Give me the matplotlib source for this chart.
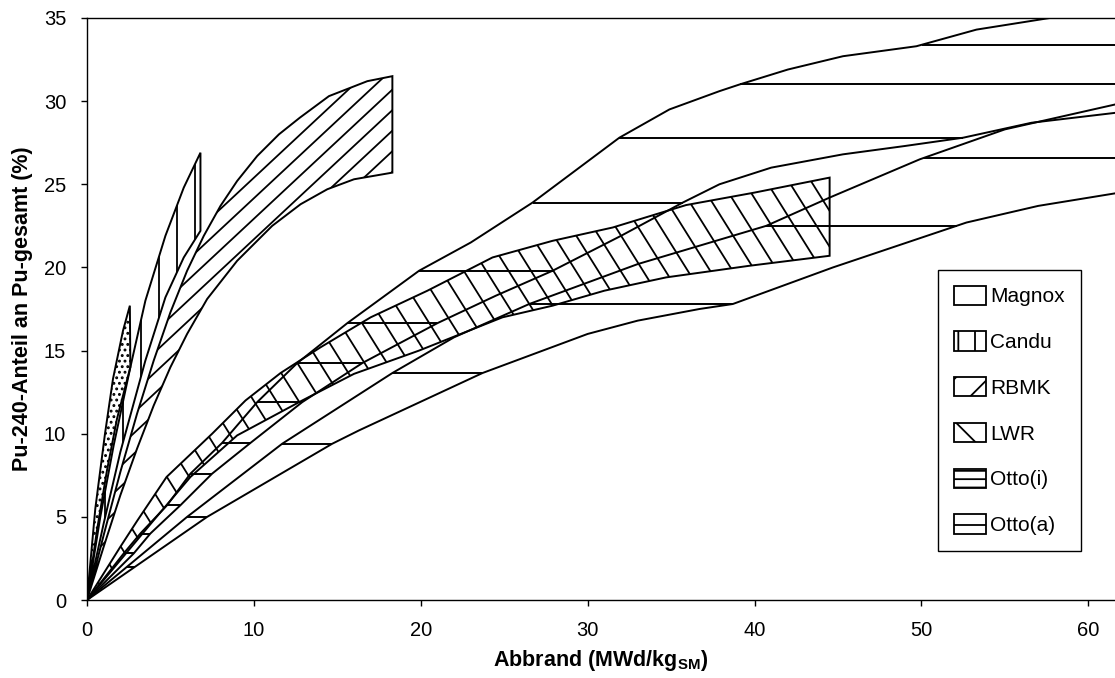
import numpy as np
import matplotlib.pyplot as plt
from matplotlib.patches import Patch

plt.rcParams['font.family'] = ['Liberation Sans', 'DejaVu Sans']
plt.rcParams['mathtext.fontset'] = 'custom'
plt.rcParams['mathtext.rm'] = 'Liberation Sans'
plt.rcParams['mathtext.bf'] = 'Liberation Sans:bold'
plt.rcParams['hatch.linewidth'] = 1.3

# band boundaries: burnup (MWd/kg) -> Pu-240 share (%)
magnox_top_x = [0, 0.5, 1.08, 1.56, 2.16, 2.57]
magnox_top_y = [0, 5.5, 10.0, 13.3, 16.2, 17.7]
magnox_bot_x = [0, 0.6, 1.2, 1.8, 2.6]
magnox_bot_y = [0, 4.2, 7.8, 10.9, 14.0]

candu_top_x = [0, 0.8, 1.6, 2.6, 3.5, 4.7, 5.8, 6.8]
candu_top_y = [0, 5.0, 9.3, 14.0, 18.0, 21.9, 24.8, 26.9]
candu_bot_x = [0, 1, 2, 3.5, 4.7, 5.8, 6.8]
candu_bot_y = [0, 4.6, 8.9, 14.4, 18.2, 20.6, 22.2]

rbmk_top_x = [0, 1, 2, 3, 4, 5, 6, 7, 8, 9, 10.2, 11.5, 12.75, 14.5, 16.8, 18.3]
rbmk_top_y = [0, 3.9, 7.7, 11.2, 14.4, 17.3, 19.8, 21.9, 23.7, 25.2, 26.7, 28.0, 29.0, 30.3, 31.2, 31.5]
rbmk_bot_x = [0, 1, 2, 3, 4, 5, 6, 7.2, 9, 11.1, 12.8, 14.4, 16, 18.3]
rbmk_bot_y = [0, 3.2, 6.3, 9.1, 11.7, 14.0, 16.0, 18.1, 20.4, 22.5, 23.8, 24.7, 25.3, 25.7]

lwr_top_x = [0, 2, 3, 4.77, 7.5, 9.5, 11.6, 14, 17, 20.4, 24.3, 27.9, 31.5, 35.9, 40, 44.5]
lwr_top_y = [0, 3.2, 4.75, 7.4, 10.0, 12.0, 13.65, 15.2, 17.0, 18.6, 20.6, 21.6, 22.4, 23.75, 24.5, 25.4]
lwr_bot_x = [0, 2, 4, 6.2, 9, 12.9, 16, 19.9, 21.9, 24.9, 27.9, 31, 34.7, 39.7, 44.5]
lwr_bot_y = [0, 2.4, 4.8, 7.4, 9.9, 12.0, 13.6, 15.0, 15.8, 17.0, 17.7, 18.6, 19.4, 20.1, 20.7]

otto_i_top_x = [0, 2.2, 3.2, 4.8, 6.2, 8.1, 10.2, 12.6, 15.6, 19.9, 23, 26.7, 29.1, 31.9,
                34.9, 37.9, 39.1, 42, 45.3, 49.7, 53.3, 57.7, 62.5]
otto_i_top_y = [0, 2.8, 4.0, 5.7, 7.6, 9.45, 11.9, 14.25, 16.65, 19.8, 21.5, 23.9, 25.7, 27.8,
                29.5, 30.6, 31.0, 31.9, 32.7, 33.3, 34.3, 35.0, 35.5]
otto_i_bot_x = [0, 2.8, 3.8, 5.6, 7.5, 9.8, 12.9, 16.5, 21, 24.5, 27.9, 32, 35.7, 37.9,
                41, 45.3, 49, 52.5, 56.6, 62.5]
otto_i_bot_y = [0, 2.8, 4.0, 5.7, 7.6, 9.45, 11.9, 14.25, 16.65, 18.3, 19.8, 21.9, 23.9, 25.0,
                26.0, 26.8, 27.3, 27.8, 28.7, 29.4]

otto_a_top_x = [0, 2.4, 6, 11.7, 18.3, 22, 26.5, 33, 40.7, 44.5, 49.9, 55, 62.5]
otto_a_top_y = [0, 2.0, 5.0, 9.4, 13.65, 15.8, 17.8, 20.2, 22.5, 24.2, 26.5, 28.3, 30.0]
otto_a_bot_x = [0, 7.2, 14.7, 16.3, 23.7, 30, 33, 36.7, 38.7, 44.7, 52.7, 57, 62.5]
otto_a_bot_y = [0, 5.0, 9.4, 10.2, 13.65, 16.0, 16.8, 17.5, 17.8, 20.0, 22.7, 23.7, 24.6]

# levels of the horizontal hatch strokes in the two Otto bands
otto_i_levels = [2.8, 4.0, 5.7, 7.6, 9.45, 11.9, 14.25, 16.65, 19.8, 23.9, 27.8, 31.0, 33.4]
otto_a_levels = [2.0, 5.0, 9.4, 13.65, 17.8, 22.5, 26.6]

labels = ['Magnox', 'Candu', 'RBMK', 'LWR', 'Otto(i)', 'Otto(a)']
legend_hatches = ['', '|', '/', '\\', '--', '-']

XMAX, YMAX = 61.6, 35
W, H = 1115, 678
ax_box = [0.078, 0.115, 0.922, 0.8585]

fig = plt.figure(figsize=(W / 100, H / 100), dpi=100)
ax = fig.add_axes(ax_box)
lw = 1.4

# pixels per data unit, used to lay hatch strokes out in screen space
px_x = W * ax_box[2] / XMAX
px_y = H * ax_box[3] / YMAX


def band(xt, yt, xb, yb, hatch=None):
    xs = np.concatenate([xt, xb[::-1]])
    ys = np.concatenate([yt, yb[::-1]])
    return ax.fill(xs, ys, facecolor='none', edgecolor='black', hatch=hatch, lw=lw)[0]


def clip_hatch(patch, angle, spacing):
    # parallel strokes (angle in degrees, spacing in px) clipped to the band outline
    v = patch.get_path().vertices
    px, py = v[:, 0] * px_x, v[:, 1] * px_y
    a = np.radians(angle)
    d = np.array([np.cos(a), np.sin(a)])
    n = np.array([-np.sin(a), np.cos(a)])
    proj = px * n[0] + py * n[1]
    L = np.hypot(np.ptp(px), np.ptp(py)) + 20
    cd = np.mean(px) * d[0] + np.mean(py) * d[1]
    for k in np.arange(np.floor(proj.min() / spacing), np.ceil(proj.max() / spacing) + 1):
        p0 = k * spacing * n + (cd - L) * d
        p1 = k * spacing * n + (cd + L) * d
        ln, = ax.plot([p0[0] / px_x, p1[0] / px_x], [p0[1] / px_y, p1[1] / px_y],
                      color='black', lw=1.3)
        ln.set_clip_path(patch)


band(np.array(magnox_top_x), np.array(magnox_top_y),
     np.array(magnox_bot_x), np.array(magnox_bot_y), '...')
p_candu = band(np.array(candu_top_x), np.array(candu_top_y),
               np.array(candu_bot_x), np.array(candu_bot_y))
clip_hatch(p_candu, 90, 18)
p_rbmk = band(np.array(rbmk_top_x), np.array(rbmk_top_y),
              np.array(rbmk_bot_x), np.array(rbmk_bot_y))
clip_hatch(p_rbmk, 43, 15)
p_lwr = band(np.array(lwr_top_x), np.array(lwr_top_y),
             np.array(lwr_bot_x), np.array(lwr_bot_y))
clip_hatch(p_lwr, -58, 19)

# Otto bands: outline curves plus horizontal strokes between them
for xs, ys in [(otto_i_top_x, otto_i_top_y), (otto_i_bot_x, otto_i_bot_y),
               (otto_a_top_x, otto_a_top_y), (otto_a_bot_x, otto_a_bot_y)]:
    ax.plot(xs, ys, color='black', lw=lw)


def strokes(levels, xt, yt, xb, yb):
    lv = np.array(levels)
    x0 = np.interp(lv, yt, xt, right=np.nan)
    x1 = np.interp(lv, yb, xb, right=xb[-1])
    ax.hlines(lv, x0, x1, color='black', lw=lw)


strokes(otto_i_levels, otto_i_top_x, otto_i_top_y, otto_i_bot_x, otto_i_bot_y)
strokes(otto_a_levels, otto_a_top_x, otto_a_top_y, otto_a_bot_x, otto_a_bot_y)

ax.set_xlim(0, XMAX)
ax.set_ylim(0, YMAX)
ax.set_xticks(range(0, 61, 10))
ax.set_yticks(range(0, 36, 5))
ax.tick_params(direction='out', length=4, width=1, labelsize=14.5)
ax.tick_params(axis='y', pad=11)
ax.tick_params(axis='x', pad=11)
for s in ax.spines.values():
    s.set_linewidth(1.0)
ax.spines['right'].set_visible(False)

ax.set_xlabel(r'Abbrand (MWd/kg$_{\mathbf{SM}}$)', fontsize=15.5, fontweight='bold', labelpad=6)
ax.set_ylabel('Pu-240-Anteil an Pu-gesamt (%)', fontsize=15.5, fontweight='bold', labelpad=8)

handles = [Patch(facecolor='white', edgecolor='black', hatch=h, lw=1.3) for h in legend_hatches]
leg = ax.legend(handles, labels, loc='upper left', bbox_to_anchor=(0.828, 0.567),
                borderaxespad=0, fontsize=15, frameon=True, fancybox=False,
                edgecolor='black', framealpha=1, handlelength=1.55, handleheight=1.05,
                labelspacing=1.2, handletextpad=0.2, borderpad=0.75)
leg.get_frame().set_linewidth(1.0)

fig.savefig('out.png', dpi=100)
